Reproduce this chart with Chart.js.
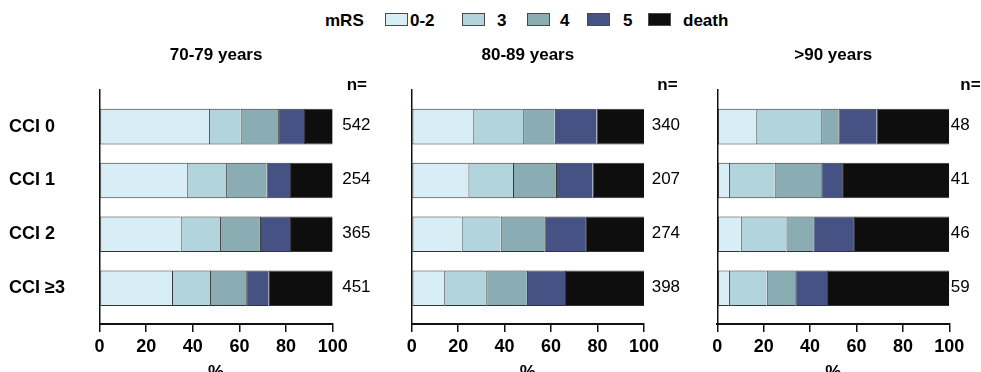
<!DOCTYPE html>
<html>
<head>
<meta charset="utf-8">
<script src="https://cdn.jsdelivr.net/npm/chart.js@4.4.1/dist/chart.umd.min.js"></script>
<style>
  html, body { margin: 0; padding: 0; background: #fff; overflow: hidden; width: 981px; height: 372px; }
  #wrap { position: relative; width: 981px; height: 372px; overflow: hidden;
          font-family: "Liberation Sans", Arial, Helvetica, sans-serif; color: #000; }
  #wrap canvas { position: absolute; top: 0; }
  .lg-text { position: absolute; top: 11px; height: 20px; line-height: 20px; font-size: 17px; font-weight: bold; white-space: nowrap; }
  .lg-box { position: absolute; top: 13px; width: 23px; height: 13px; box-sizing: border-box; border: 1px solid #4a4a4a; }
</style>
</head>
<body>
<div id="wrap">
  <div id="legend"></div>
  <canvas id="panel0" width="395" height="390" style="left:0px"></canvas>
  <canvas id="panel1" width="300" height="390" style="left:395px"></canvas>
  <canvas id="panel2" width="281" height="390" style="left:700px"></canvas>
</div>
<script>
// ---- data -------------------------------------------------------------
const ageGroups = ['70-79 years', '80-89 years', '>90 years'];
const cciGroups = ['CCI 0', 'CCI 1', 'CCI 2', 'CCI \u22653'];
const mrsGrades = ['0-2', '3', '4', '5', 'death'];
const xTicks = [0, 20, 40, 60, 80, 100];

// share of patients (%) per mRS grade; each row is one grade, columns follow cciGroups
const pct70to79 = [
  [47.0, 37.4, 34.8, 31.1],
  [13.5, 16.9, 16.9, 16.3],
  [16.1, 17.3, 17.1, 15.5],
  [11.1, 10.1, 12.9,  9.5],
  [12.3, 18.3, 18.3, 27.6]
];
const pct80to89 = [
  [26.5, 24.4, 21.5, 14.0],
  [21.5, 19.2, 16.8, 18.1],
  [13.6, 18.5, 18.8, 17.5],
  [18.0, 15.8, 17.9, 16.4],
  [20.4, 22.1, 25.0, 34.0]
];
const pctOver90 = [
  [16.8,  5.0, 10.1,  5.0],
  [28.0, 19.7, 19.7, 16.3],
  [ 7.4, 20.1, 11.6, 12.3],
  [16.5,  9.0, 17.5, 13.7],
  [31.3, 46.2, 41.1, 52.7]
];

// patients per CCI group
const n70to79 = [542, 254, 365, 451];
const n80to89 = [340, 207, 274, 398];
const nOver90 = [48, 41, 46, 59];

// ---- styling ----------------------------------------------------------
const FONT = '"Liberation Sans", Arial, Helvetica, sans-serif';
const gradeColors = ['#d7eef6', '#b2d4dc', '#89adb3', '#465184', '#0e0e0e'];
const edgeColor = '#333333';

Chart.defaults.font.family = FONT;
Chart.defaults.color = '#000';
Chart.defaults.animation = false;

// legend row (HTML)
(function buildLegend() {
  const lg = document.getElementById('legend');
  const head = document.createElement('span');
  head.className = 'lg-text'; head.style.left = '325px'; head.textContent = 'mRS';
  lg.appendChild(head);
  const boxLeft = [385, 462, 527, 587, 648];
  const textLeft = [410, 497, 560, 623, 683];
  mrsGrades.forEach((g, i) => {
    const b = document.createElement('span');
    b.className = 'lg-box'; b.style.left = boxLeft[i] + 'px'; b.style.background = gradeColors[i];
    lg.appendChild(b);
    const t = document.createElement('span');
    t.className = 'lg-text'; t.style.left = textLeft[i] + 'px'; t.textContent = g;
    lg.appendChild(t);
  });
})();

// writes the "n=" header and the group sizes to the right of the bars
const nColumn = {
  id: 'nColumn',
  afterDraw(chart, args, opts) {
    const { ctx, chartArea, scales: { y } } = chart;
    ctx.save();
    ctx.fillStyle = '#000';
    ctx.textAlign = 'left';
    ctx.textBaseline = 'middle';
    ctx.font = 'bold 17px ' + FONT;
    ctx.fillText('n=', chartArea.right + opts.headDx, chartArea.top - 5);
    ctx.font = '17px ' + FONT;
    opts.counts.forEach((n, i) => {
      ctx.fillText(String(n), chartArea.right + opts.dx, y.getPixelForValue(i) - 1);
    });
    ctx.restore();
  }
};

const panels = [
  { id: 'panel0', pct: pct70to79, counts: n70to79, padLeft: 9,   axisW: 90.5, padRight: 62.3, cats: true,  dx: 9.5, headDx: 14 },
  { id: 'panel1', pct: pct80to89, counts: n80to89, padLeft: 6.7, axisW: 10,   padRight: 51,   cats: false, dx: 7.7, headDx: 13.3 },
  { id: 'panel2', pct: pctOver90, counts: nOver90, padLeft: 7.3, axisW: 10,   padRight: 31.7, cats: false, dx: 1.5, headDx: 11 }
];

panels.forEach((p, k) => {
  const datasets = mrsGrades.map((g, gi) => ({
    label: g,
    data: p.pct[gi].map((v, i) => ({ x: v, y: i })),
    backgroundColor: gradeColors[gi],
    borderColor: edgeColor,
    borderWidth: { top: 1, bottom: 1, left: 1, right: 0 },
    borderSkipped: false,
    categoryPercentage: 1,
    barPercentage: 0.66
  }));

  new Chart(document.getElementById(p.id), {
    type: 'bar',
    data: { datasets },
    plugins: [nColumn],
    options: {
      indexAxis: 'y',
      responsive: false,
      animation: false,
      layout: { padding: { left: p.padLeft, right: p.padRight, top: 0, bottom: 0 } },
      plugins: {
        legend: { display: false },
        tooltip: { enabled: false },
        title: {
          display: true,
          text: ageGroups[k],
          fullSize: false,
          color: '#000',
          font: { size: 17, weight: 'bold' },
          padding: { top: 45, bottom: 24.6 }
        },
        nColumn: { counts: p.counts, dx: p.dx, headDx: p.headDx }
      },
      scales: {
        x: {
          type: 'linear',
          stacked: true,
          min: 0,
          max: 100,
          afterBuildTicks: s => { s.ticks = xTicks.map(v => ({ value: v })); },
          afterFit: s => { s.height = 66; },
          grid: { display: true, drawOnChartArea: false, drawTicks: true, tickLength: 8, color: '#111', lineWidth: 1.5 },
          border: { display: true, color: '#111', width: 2 },
          ticks: { color: '#000', font: { size: 18, weight: 'bold' }, padding: 4, maxRotation: 0, autoSkip: false },
          title: { display: true, text: '%', color: '#000', font: { size: 18, weight: 'bold' }, padding: { top: 0, bottom: 6.6 } }
        },
        y: {
          type: 'linear',
          stacked: true,
          reverse: true,
          offset: false,
          min: -0.68,
          max: 3.665,
          afterBuildTicks: s => { s.ticks = cciGroups.map((c, i) => ({ value: i })); },
          afterFit: s => { s.width = p.axisW; },
          grid: { display: false, offset: false },
          border: { display: true, color: '#111', width: 1.5 },
          ticks: {
            display: p.cats,
            crossAlign: 'far',
            color: '#000',
            font: { size: 18, weight: 'bold' },
            autoSkip: false,
            callback: v => cciGroups[v]
          }
        }
      }
    }
  });
});
</script>
</body>
</html>
